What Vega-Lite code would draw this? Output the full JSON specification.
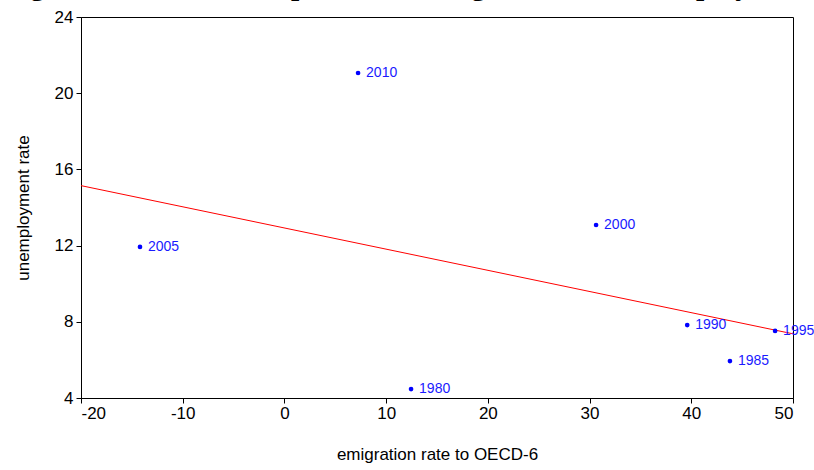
{
  "$schema": "https://vega.github.io/schema/vega-lite/v6.json",
  "width": 712,
  "height": 381,
  "autosize": "none",
  "padding": {"left": 81, "top": 17, "right": 21, "bottom": 72},
  "background": "white",
  "title": {
    "text": "Figure 3.1: Relationship between emigration and unemployment",
    "anchor": "start",
    "frame": "group",
    "font": "Liberation Serif",
    "fontSize": 29.5,
    "fontWeight": "bold",
    "color": "black",
    "baseline": "alphabetic",
    "dx": -77,
    "dy": 27,
    "offset": 11
  },
  "config": {
    "view": {"stroke": "black", "strokeWidth": 1},
    "axis": {
      "grid": false,
      "domainColor": "black",
      "tickColor": "black",
      "tickSize": 5,
      "labelFont": "Liberation Sans",
      "labelFontSize": 17,
      "labelColor": "black",
      "labelExpr": "'' + datum.value",
      "titleFont": "Liberation Sans",
      "titleFontSize": 17,
      "titleFontWeight": "normal",
      "titleColor": "black"
    }
  },
  "data": {
    "values": [
      {"year": "1980", "emig": 12.45, "unemp": 4.47},
      {"year": "1985", "emig": 43.8, "unemp": 5.94},
      {"year": "1990", "emig": 39.6, "unemp": 7.83},
      {"year": "1995", "emig": 48.24, "unemp": 7.52},
      {"year": "2000", "emig": 30.64, "unemp": 13.08},
      {"year": "2005", "emig": -14.2, "unemp": 11.93},
      {"year": "2010", "emig": 7.24, "unemp": 21.06}
    ]
  },
  "encoding": {
    "x": {
      "field": "emig",
      "type": "quantitative",
      "scale": {"domain": [-20, 50], "nice": false, "zero": false},
      "axis": {"values": [-20, -10, 0, 10, 20, 30, 40, 50], "title": "emigration rate to OECD-6", "labelPadding": 2, "titlePadding": 25}
    },
    "y": {
      "field": "unemp",
      "type": "quantitative",
      "scale": {"domain": [4, 24], "nice": false, "zero": false},
      "axis": {"values": [4, 8, 12, 16, 20, 24], "title": "unemployment rate", "labelPadding": 3, "titlePadding": 22}
    }
  },
  "layer": [
    {
      "transform": [{"regression": "unemp", "on": "emig", "extent": [-20, 50]}],
      "mark": {"type": "line", "color": "#ff0000", "strokeWidth": 1}
    },
    {
      "mark": {"type": "point", "filled": true, "color": "#0000ff", "size": 22, "opacity": 1}
    },
    {
      "mark": {"type": "text", "align": "left", "baseline": "middle", "dx": 8, "font": "Liberation Sans", "fontSize": 14, "color": "#1a1aff"},
      "encoding": {"text": {"field": "year"}}
    }
  ]
}
